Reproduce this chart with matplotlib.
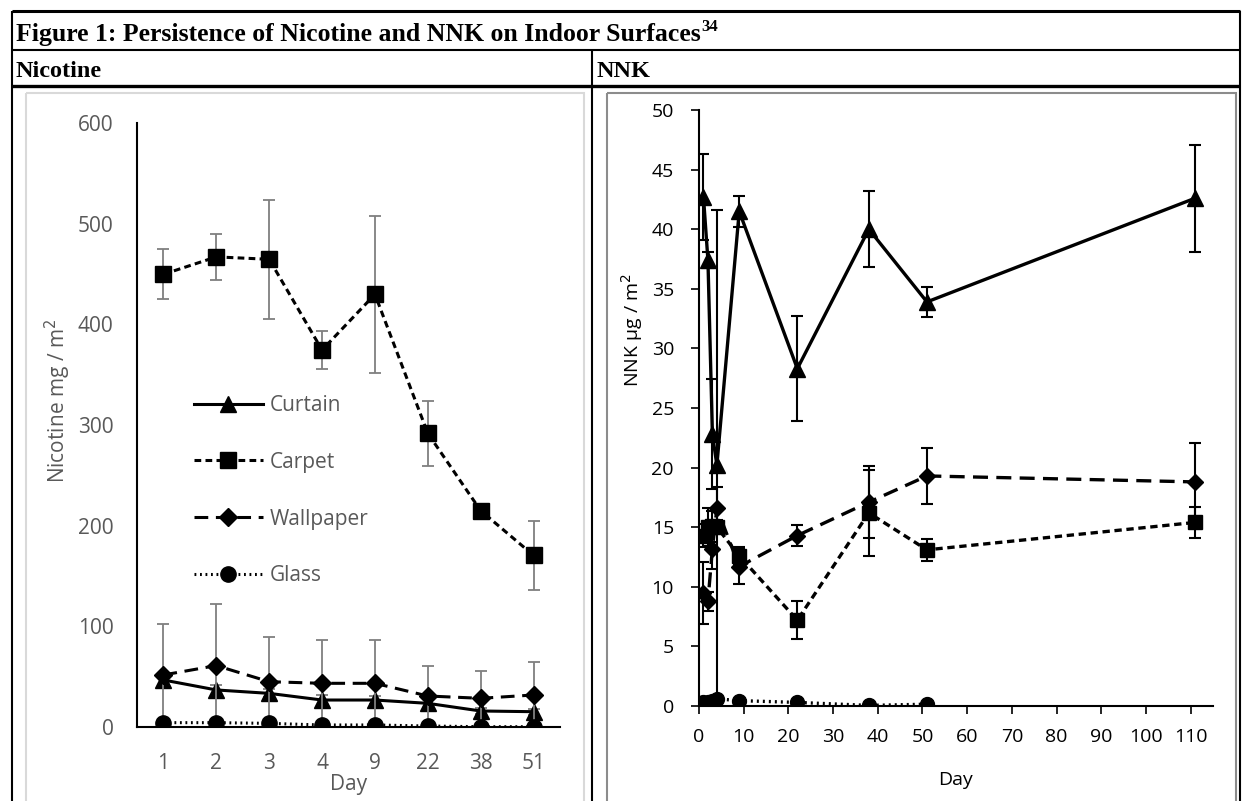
import numpy as np
import matplotlib
matplotlib.use("Agg")
import matplotlib.pyplot as plt
from matplotlib.patches import Rectangle

# ---- data ----
nic_days = ["1", "2", "3", "4", "9", "22", "38", "51"]
nic_curtain = [46.7, 36.8, 33.4, 26.8, 26.8, 23.5, 15.9, 15.2]
nic_curtain_err = [5, 5, 4, 5, 4, 5, 3, 3]
nic_carpet = [449.7, 467.0, 464.6, 374.5, 429.8, 291.7, 214.9, 170.5]
nic_carpet_err = [25, 23, 59, 18.5, 78, 32, 4, 34]
nic_wallpaper = [51.7, 61.0, 45.0, 43.4, 43.4, 30.8, 28.5, 31.8]
nic_wallpaper_err = [51, 61, 44, 43.5, 43.5, 30, 27, 33]
nic_glass = [4.3, 4.3, 3.6, 2.0, 2.0, 1.0, 0.3, 0.3]
nic_glass_err = [1, 1, 1, 1, 1, 0.5, 0.3, 0.3]

nnk_days = [1, 2, 3, 4, 9, 22, 38, 51, 111]
nnk_curtain = [42.7, 37.4, 22.8, 20.2, 41.5, 28.3, 40.0, 33.9, 42.6]
nnk_curtain_err = [3.6, 0.65, 4.6, 21.4, 1.3, 4.4, 3.2, 1.25, 4.5]
nnk_carpet = [14.3, 15.0, 15.1, 15.0, 12.6, 7.2, 16.2, 13.1, 15.4]
nnk_carpet_err = [1.0, 1.6, 1.3, 0.6, 0.7, 1.6, 3.6, 0.9, 1.3]
nnk_wallpaper = [9.5, 8.8, 13.2, 16.6, 11.7, 14.3, 17.1, 19.3, 18.8]
nnk_wallpaper_err = [2.6, 0.8, 1.7, 1.8, 1.5, 0.85, 3.0, 2.35, 3.3]
nnk_glass_days = [1, 2, 3, 4, 9, 22, 38, 51]
nnk_glass = [0.3, 0.35, 0.45, 0.6, 0.45, 0.3, 0.05, 0.15]

labels = ["Curtain", "Carpet", "Wallpaper", "Glass"]

W, H = 1248, 801
fig = plt.figure(figsize=(W / 100, H / 100), dpi=100)


def px_axes(x0, y0, x1, y1):
    # pixel box (top-left origin) -> figure axes
    return fig.add_axes([x0 / W, 1 - y1 / H, (x1 - x0) / W, (y1 - y0) / H])


# ---- table background ----
bg = fig.add_axes([0, 0, 1, 1])
bg.set_xlim(0, W)
bg.set_ylim(H, 0)
bg.axis("off")
for (xa, ya, xb, yb, lw) in [(12, 11, 1240, 11, 2.2), (12, 50, 1240, 50, 1.5),
                             (12, 86, 1240, 86, 2.4), (12, 11, 12, H, 1.5),
                             (1240, 11, 1240, H, 1.5), (592, 50, 592, H, 1.5)]:
    bg.plot([xa, xb], [ya, yb], color="black", lw=lw, solid_capstyle="butt")
bg.add_patch(Rectangle((26, 93), 558, 720, fill=False, ec="#d9d9d9", lw=1.5))
bg.add_patch(Rectangle((607, 93), 629, 720, fill=False, ec="#8c8c8c", lw=1.5))

serif = "Liberation Serif"
t = bg.text(16, 41, "Figure 1: Persistence of Nicotine and NNK on Indoor Surfaces",
            family=serif, weight="bold", fontsize=18.5, va="baseline")
fig.canvas.draw()
bb = t.get_window_extent()
bg.text(bb.x1 + 1, 31, "34", family=serif, weight="bold", fontsize=12, va="baseline")
bg.text(16, 77, "Nicotine", family=serif, weight="bold", fontsize=17.5, va="baseline")
bg.text(597, 77, "NNK", family=serif, weight="bold", fontsize=17.5, va="baseline")

styles = [
    dict(ls="-", marker="^", ms=12),
    dict(ls=(0, (2.2, 1.4)), marker="s", ms=11.5),
    dict(ls=(0, (4.5, 2.5)), marker="D", ms=9),
    dict(ls=(0, (0.6, 1.2)), marker="o", ms=11),
]

# ---- left: nicotine ----
gray = "#595959"
font = "Open Sans"
ax1 = px_axes(137, 123, 560, 727)
xpos = np.arange(len(nic_days))
series = [(nic_curtain, nic_curtain_err), (nic_carpet, nic_carpet_err),
          (nic_wallpaper, nic_wallpaper_err), (nic_glass, nic_glass_err)]
handles = []
for (vals, errs), st, lab in zip(series, styles, labels):
    ax1.errorbar(xpos, vals, yerr=errs, fmt="none", ecolor="#7f7f7f",
                 elinewidth=1.3, capsize=4, capthick=1.3)
    ln, = ax1.plot(xpos, vals, color="black", lw=2.2, ls=st["ls"],
                   marker=st["marker"], ms=st["ms"], mfc="black", mec="black", label=lab)
    handles.append(ln)
ax1.set_xlim(-0.5, len(nic_days) - 0.5)
ax1.set_ylim(0, 600)
ax1.set_yticks(np.arange(0, 601, 100))
ax1.set_xticks(xpos)
ax1.set_xticklabels(nic_days)
ax1.tick_params(length=0, labelsize=15, labelcolor=gray, pad=19)
ax1.tick_params(axis="y", pad=17)
for s in ["top", "right"]:
    ax1.spines[s].set_visible(False)
for s in ["left", "bottom"]:
    ax1.spines[s].set_linewidth(1.5)
for lb in ax1.get_xticklabels() + ax1.get_yticklabels():
    lb.set_family(font)
ax1.set_xlabel("Day", family=font, fontsize=15, color=gray, labelpad=0)
ax1.set_ylabel("Nicotine mg / m$^2$", family=font, fontsize=15, color=gray)
ax1.yaxis.set_label_coords(-0.152, 0.54)
leg = ax1.legend(handles=handles, loc="upper left", bbox_to_anchor=(0.11, 0.567),
                 frameon=False, handlelength=3.3, handletextpad=0.35, labelspacing=1.72,
                 borderpad=0, prop=dict(family=font, size=15))
for txt in leg.get_texts():
    txt.set_color(gray)

# ---- right: NNK ----
ax2 = px_axes(699, 110, 1213, 706)
series2 = [(nnk_days, nnk_curtain, nnk_curtain_err), (nnk_days, nnk_carpet, nnk_carpet_err),
           (nnk_days, nnk_wallpaper, nnk_wallpaper_err), (nnk_glass_days, nnk_glass, None)]
for (dd, vals, errs), st in zip(series2, styles):
    if errs is not None:
        ax2.errorbar(dd, vals, yerr=errs, fmt="none", ecolor="black",
                     elinewidth=1.5, capsize=4, capthick=1.5)
    ax2.plot(dd, vals, color="black", lw=2.4, ls=st["ls"], marker=st["marker"],
             ms=st["ms"] - 1, mfc="black", mec="black")
ax2.set_xlim(0, 115)
ax2.set_ylim(0, 50)
ax2.set_xticks(np.arange(0, 111, 10))
ax2.set_yticks(np.arange(0, 51, 5))
ax2.tick_params(direction="out", length=6, width=1.2, labelsize=14, pad=10)
ax2.tick_params(axis="y", pad=12)
for s in ["top", "right"]:
    ax2.spines[s].set_visible(False)
for s in ["left", "bottom"]:
    ax2.spines[s].set_linewidth(1.5)
for lb in ax2.get_xticklabels() + ax2.get_yticklabels():
    lb.set_family(font)
ax2.set_xlabel("Day", family=font, fontsize=14, labelpad=18)
ax2.set_ylabel("NNK µg / m$^2$", family=font, fontsize=14)
ax2.yaxis.set_label_coords(-0.105, 0.63)

fig.savefig("out.png", dpi=100)
